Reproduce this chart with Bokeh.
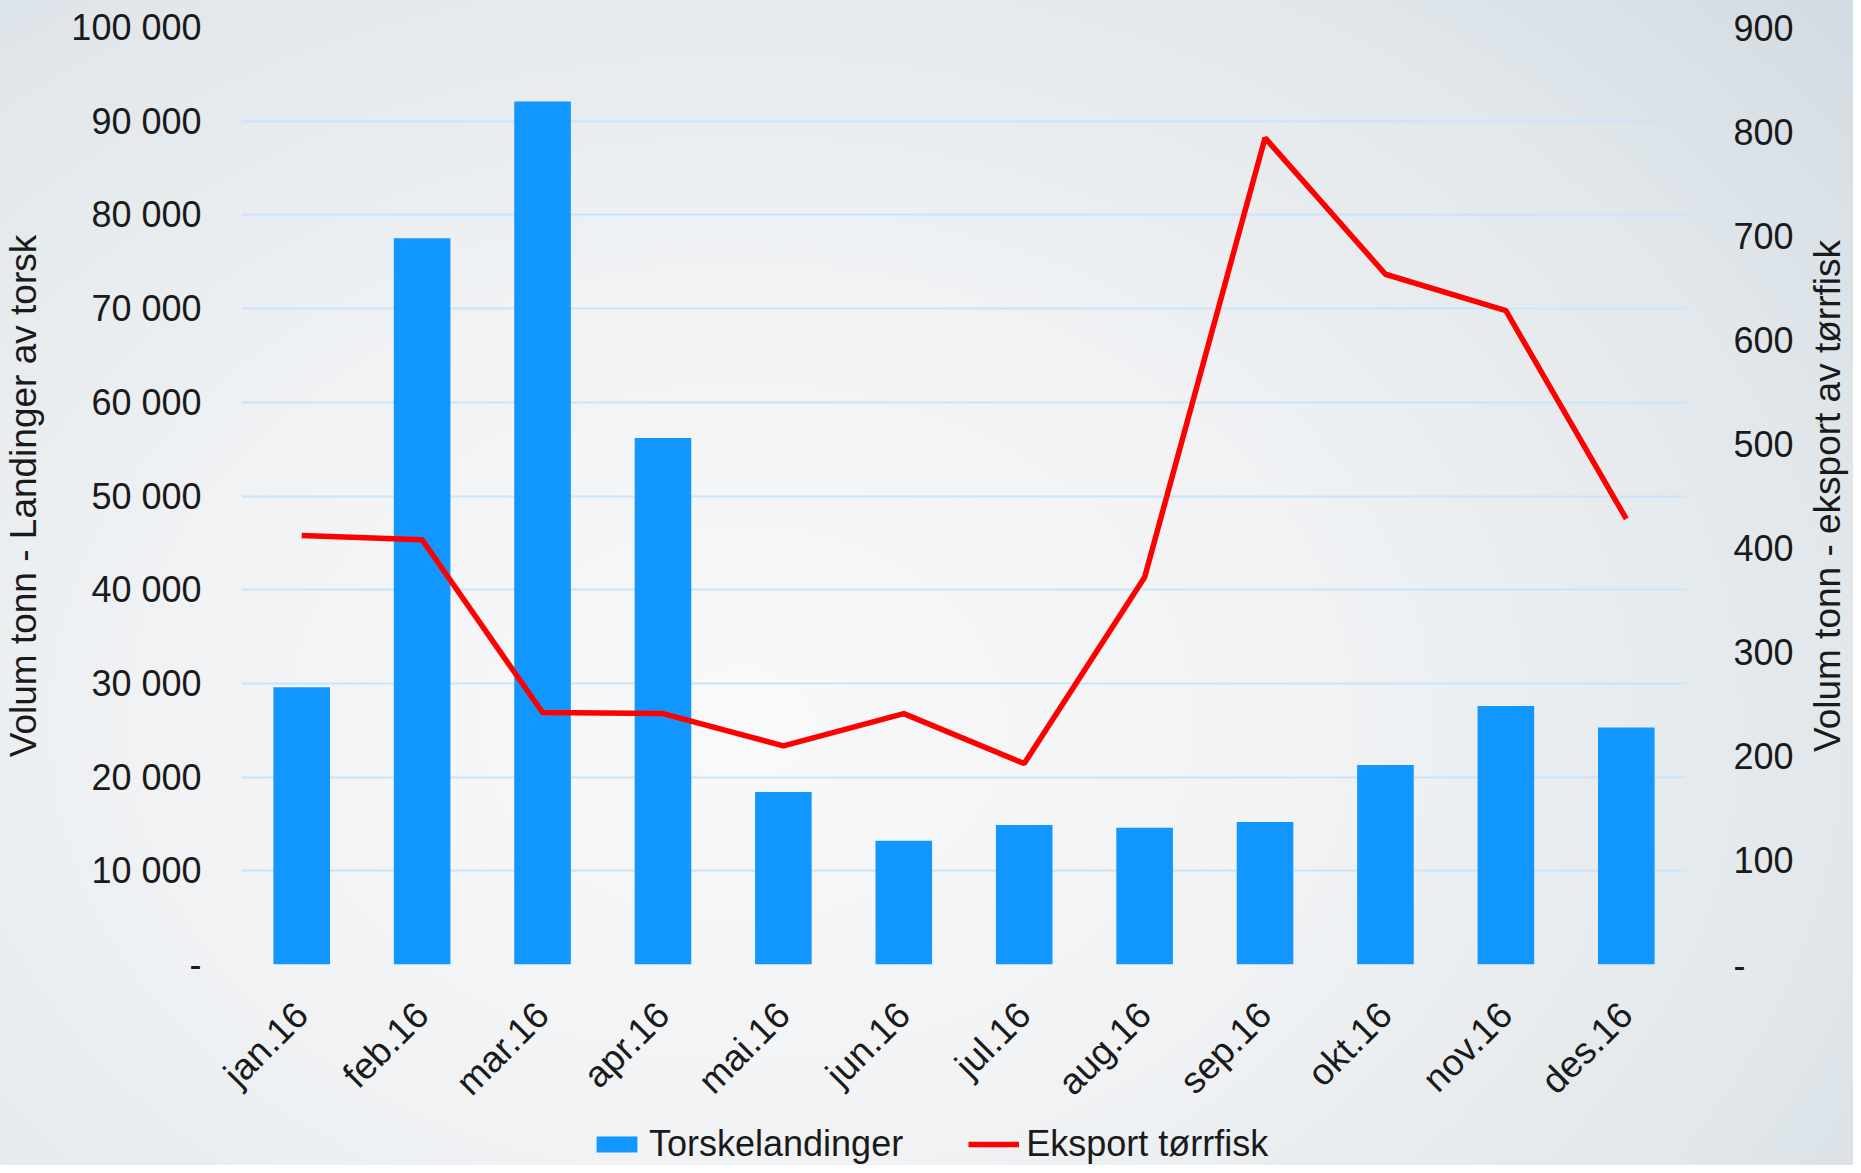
import math
from bokeh.plotting import figure
from bokeh.layouts import row, column
from bokeh.models import (ColumnDataSource, LinearAxis, Range1d, FixedTicker,
                          Legend, LegendItem)
from bokeh.core.properties import value
from bokeh.embed import file_html
from bokeh.resources import INLINE

# ---- data ----
months = ["jan.16", "feb.16", "mar.16", "apr.16", "mai.16", "jun.16",
          "jul.16", "aug.16", "sep.16", "okt.16", "nov.16", "des.16"]
torskelandinger = [29600, 77500, 92100, 56200, 18400, 13200,
                   14900, 14600, 15200, 21300, 27600, 25300]
eksport_torrfisk = [412, 408, 242, 241, 210, 241,
                    193, 372, 794, 663, 628, 428]

left_ticks = [0, 10000, 20000, 30000, 40000, 50000, 60000, 70000, 80000, 90000, 100000]
left_labels = ["-", "10 000", "20 000", "30 000", "40 000", "50 000",
               "60 000", "70 000", "80 000", "90 000", "100 000"]
right_ticks = [0, 100, 200, 300, 400, 500, 600, 700, 800, 900]
right_labels = ["-", "100", "200", "300", "400", "500", "600", "700", "800", "900"]

left_title = "Volum tonn - Landinger av torsk"
right_title = "Volum tonn - eksport av tørrfisk"
bar_name = "Torskelandinger"
line_name = "Eksport tørrfisk"

FONT = "Liberation Sans"
TXT = "#1a1a1a"
BAR = "#1296ff"
RED = "#ff0000"
GRID = "#c9e4fb"
H_MAIN = 1120
H_LEG = 45
W_MAIN = 1801
W_SIDE = 52

src = ColumnDataSource(dict(m=months, v=torskelandinger, e=eksport_torrfisk))

p = figure(width=W_MAIN, height=H_MAIN, x_range=months, y_range=Range1d(0, 100000),
           output_backend="svg", toolbar_location=None,
           min_border_left=235, min_border_right=W_MAIN - 235 - 1451,
           min_border_top=27, min_border_bottom=H_MAIN - 27 - 946)
p.background_fill_color = None
p.border_fill_color = None
p.outline_line_color = None

p.extra_y_ranges = {"r": Range1d(0, 900)}

bars = p.vbar(x="m", top="v", width=0.47, source=src, color=BAR, line_color=None)
line = p.line(x="m", y="e", source=src, y_range_name="r", line_color=RED,
              line_width=5.5)

# left axis
ax = p.yaxis[0]
ax.ticker = FixedTicker(ticks=left_ticks)
ax.major_label_overrides = {t: l for t, l in zip(left_ticks, left_labels)}
ax.axis_label = left_title

# right axis
rax = LinearAxis(y_range_name="r", ticker=FixedTicker(ticks=right_ticks))
rax.major_label_overrides = {t: l for t, l in zip(right_ticks, right_labels)}
p.add_layout(rax, "right")

for a in (ax, rax):
    a.axis_line_color = None
    a.major_tick_line_color = None
    a.minor_tick_line_color = None
    a.major_label_text_font = FONT
    a.major_label_text_font_size = "36px"
    a.major_label_text_color = TXT
    a.axis_label_text_font = FONT
    a.axis_label_text_font_size = "37px"
    a.axis_label_text_font_style = "normal"
    a.axis_label_text_color = TXT
ax.major_label_standoff = 34
ax.axis_label_standoff = 24
rax.major_label_standoff = 41

xa = p.xaxis[0]
xa.axis_line_color = None
xa.major_tick_line_color = None
xa.minor_tick_line_color = None
xa.major_label_orientation = math.pi / 4
xa.major_label_text_font = FONT
xa.major_label_text_font_size = "37px"
xa.major_label_text_color = TXT
xa.major_label_standoff = 38

p.xgrid.grid_line_color = None
p.ygrid.ticker = FixedTicker(ticks=left_ticks)
p.ygrid.grid_line_color = GRID
p.ygrid.grid_line_width = 2


def bare(fig):
    fig.axis.visible = False
    fig.grid.visible = False
    fig.background_fill_color = None
    fig.border_fill_color = None
    fig.outline_line_color = None


# narrow side figure carrying the right-hand axis title (reads bottom-to-top)
p2 = figure(width=W_SIDE, height=H_MAIN, x_range=Range1d(0, 1), y_range=Range1d(0, 1),
            output_backend="svg", toolbar_location=None,
            min_border_left=0, min_border_right=0,
            min_border_top=0, min_border_bottom=0)
bare(p2)
p2.text(x=[0.5], y=[0.5], text=[right_title], angle=math.pi / 2,
        text_align="center", text_baseline="middle",
        text_font=value(FONT), text_font_size="37px", text_color=TXT)

# legend strip below the chart (legend swatches reuse the series styles)
p3 = figure(width=W_MAIN + W_SIDE, height=H_LEG, x_range=Range1d(0, 1), y_range=Range1d(0, 1),
            output_backend="svg", toolbar_location=None,
            min_border_left=235, min_border_right=W_MAIN + W_SIDE - 235 - 1451,
            min_border_top=0, min_border_bottom=0)
bare(p3)
lb = p3.vbar(x=[5], top=[5], bottom=[4], width=0.5, color=BAR, line_color=None)
ll = p3.line(x=[5, 6], y=[5, 5], line_color=RED, line_width=5.5)
legend = Legend(items=[LegendItem(label=bar_name, renderers=[lb]),
                       LegendItem(label=line_name, renderers=[ll])],
                orientation="horizontal", location=(356, 0),
                background_fill_alpha=0, border_line_color=None,
                label_text_font=FONT, label_text_font_size="36px",
                label_text_color=TXT, glyph_width=51, glyph_height=20,
                label_standoff=7, spacing=65, padding=0, margin=0)
p3.add_layout(legend, "center")

layout = column(row(p, p2, spacing=0), p3, spacing=0)
layout.styles = {"background": "radial-gradient(ellipse 80% 95% at 40% 62%, #f8f9fa 0%, #f0f2f4 40%, #e1e7eb 75%, #d2dbe2 100%)"}

open("out.html", "w").write(file_html(layout, INLINE))
